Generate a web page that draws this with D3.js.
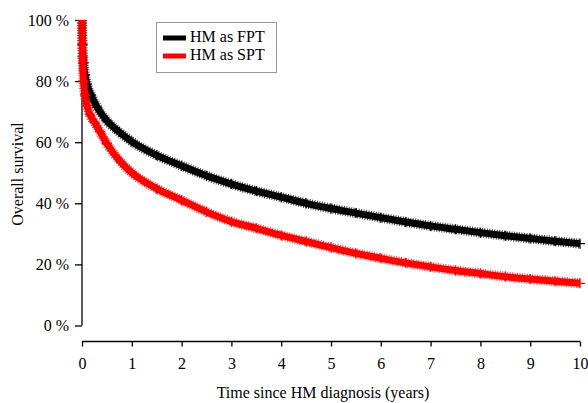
<!DOCTYPE html>
<html>
<head>
<meta charset="utf-8">
<script src="https://cdn.jsdelivr.net/npm/d3@7"></script>
<style>
  body { margin: 0; background: #fff; }
  svg { font-family: "Liberation Serif", "DejaVu Serif", serif; }
</style>
</head>
<body>
<div id="chart"></div>
<script>
// survival estimates (years, %)
var timesFPT = [0, 0.01, 0.03, 0.06, 0.1, 0.18, 0.3, 0.5, 0.75, 1, 1.5, 2, 2.5, 3, 3.5, 4, 4.5, 5, 5.5, 6, 6.5, 7, 7.5, 8, 8.5, 9, 9.5, 10];
var survFPT = [100, 92, 86, 82, 79, 75.5, 71.5, 67, 63.3, 60.2, 55.7, 52.3, 49, 46.3, 44, 42, 40, 38.3, 36.8, 35.3, 33.9, 32.6, 31.5, 30.4, 29.4, 28.5, 27.6, 26.8];
var timesSPT = [0, 0.01, 0.03, 0.06, 0.1, 0.16, 0.25, 0.36, 0.5, 0.78, 1, 1.5, 2, 2.5, 3, 3.5, 4, 4.5, 5, 5.5, 6, 6.5, 7, 7.5, 8, 8.5, 9, 9.5, 10];
var survSPT = [100, 88, 80, 75.5, 72, 69, 66.5, 63.5, 59.5, 53.5, 50, 44.8, 41, 37.2, 34, 31.8, 29.5, 27.5, 25.5, 23.6, 22, 20.5, 19.2, 18, 17, 16, 15.2, 14.5, 13.8];
var groupNames = ["HM as FPT", "HM as SPT"];
var yTicks = [0, 20, 40, 60, 80, 100];
var xTicks = [0, 1, 2, 3, 4, 5, 6, 7, 8, 9, 10];

var width = 588, height = 403;
var colors = ["#000000", "#ff0000"];

var series = [
  { name: groupNames[0], values: timesFPT.map(function(t, i) { return { t: t, s: survFPT[i] }; }) },
  { name: groupNames[1], values: timesSPT.map(function(t, i) { return { t: t, s: survSPT[i] }; }) }
];

var x = d3.scaleLinear().domain([0, 10]).range([82, 580]);
var y = d3.scaleLinear().domain([0, 100]).range([325.5, 20]);

var svg = d3.select("#chart").append("svg")
  .attr("width", width)
  .attr("height", height);

// y axis
var yAxis = svg.append("g")
  .attr("transform", "translate(82,0)")
  .call(d3.axisLeft(y).tickValues(yTicks).tickSize(7).tickPadding(6)
    .tickFormat(function(d) { return d + " %"; }));
yAxis.select(".domain").attr("d", "M0," + y(100) + "V" + y(0));

// x axis, offset below the plot
var xAxis = svg.append("g")
  .attr("transform", "translate(0,341.5)")
  .call(d3.axisBottom(x).tickValues(xTicks).tickSize(5).tickPadding(11)
    .tickFormat(d3.format("d")));
xAxis.select(".domain").attr("d", "M" + x(0) + ",0H" + x(10));

svg.selectAll(".tick text")
  .attr("font-family", "Liberation Serif")
  .attr("font-size", 16)
  .attr("fill", "#000");
svg.selectAll(".domain, .tick line").attr("stroke", "#000").attr("stroke-width", 1.3);

// curves
var line = d3.line()
  .curve(d3.curveMonotoneX)
  .x(function(d) { return x(d.t); })
  .y(function(d) { return y(d.s); });

var lines = svg.append("g");
series.forEach(function(ser, i) {
  lines.append("path")
    .datum(ser.values)
    .attr("fill", "none")
    .attr("stroke", colors[i])
    .attr("stroke-width", 10)
    .attr("stroke-dasharray", "1 1.5")
    .attr("opacity", 0.75)
    .attr("d", line);
  lines.append("path")
    .datum(ser.values)
    .attr("fill", "none")
    .attr("stroke", colors[i])
    .attr("stroke-width", 7)
    .attr("d", line);
  // censoring marks
  lines.append("g").selectAll("path")
    .data(ser.values.slice(1))
    .enter().append("path")
    .attr("transform", function(d) { return "translate(" + x(d.t) + "," + y(d.s) + ")"; })
    .attr("d", "M-5,0H5M0,-5V5")
    .attr("stroke", colors[i])
    .attr("stroke-width", 1.3)
    .attr("fill", "none");
});

// legend
var legend = svg.append("g");
legend.append("rect")
  .attr("x", 156.5).attr("y", 22.5)
  .attr("width", 120).attr("height", 50)
  .attr("fill", "#fff")
  .attr("stroke", "#999");
series.forEach(function(ser, i) {
  var ly = 38 + i * 18;
  legend.append("line")
    .attr("x1", 163).attr("x2", 186)
    .attr("y1", ly).attr("y2", ly)
    .attr("stroke", colors[i])
    .attr("stroke-width", 5);
  legend.append("text")
    .attr("x", 190).attr("y", ly + 4)
    .attr("font-size", 16)
    .text(ser.name);
});

// axis titles
svg.append("text")
  .attr("x", 323).attr("y", 398)
  .attr("text-anchor", "middle")
  .attr("font-size", 16)
  .text("Time since HM diagnosis (years)");

svg.append("text")
  .attr("transform", "translate(23,174) rotate(-90)")
  .attr("text-anchor", "middle")
  .attr("font-size", 16)
  .text("Overall survival");
</script>
</body>
</html>
